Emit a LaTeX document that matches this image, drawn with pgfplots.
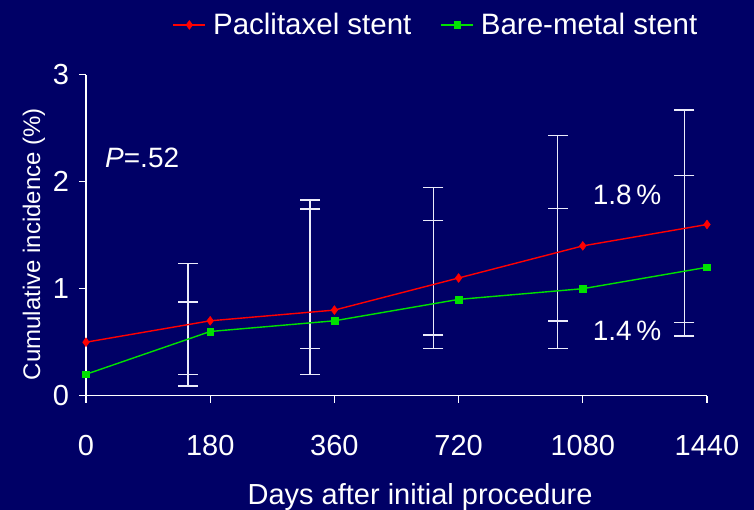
\documentclass[border=0pt]{standalone}
\usepackage{fontspec}
\setmainfont{Liberation Sans}
\usepackage{pgfplots}
\pgfplotsset{compat=1.18}
\usetikzlibrary{backgrounds}
\definecolor{bg}{RGB}{0,0,102}
\definecolor{pred}{RGB}{255,0,0}
\definecolor{bgreen}{RGB}{0,225,0}
\definecolor{ebar}{RGB}{235,235,250}
\begin{document}
\begin{tikzpicture}
\begin{axis}[
  scale only axis, width=621pt, height=321pt,
  xmin=0, xmax=5, ymin=0, ymax=3,
  axis x line=bottom, axis y line=left,
  axis line style={-, white, line width=1.3pt},
  tick align=outside, major tick length=7pt,
  tick style={white, line width=1.3pt},
  xtick={0,1,2,3,4,5}, xticklabels={0,180,360,720,1080,1440},
  ytick={0,1,2,3}, yticklabels={0,1,2,3},
  tick label style={font=\fontsize{29}{32}\selectfont, text=white, inner sep=0pt},
  xticklabel style={anchor=north, yshift=-32pt},
  yticklabel style={anchor=east, xshift=-9.7pt},
  clip=false,
  legend style={at={(axis description cs:0.562,1.155)}, anchor=center, draw=none, fill=none,
    text=white, font=\fontsize{29.5}{31}\selectfont, legend columns=2,
    nodes={inner sep=0pt},
    /tikz/every odd column/.append style={column sep=7pt},
    /tikz/every even column/.append style={column sep=29pt}},
  legend image code/.code={\draw[mark repeat=2,mark phase=2,#1] plot coordinates {(0pt,0pt) (16pt,0pt) (32pt,0pt)};},
]
% error bars (outer ranges)
\addplot[ebar, line width=1.5pt, mark=-, mark size=10pt, forget plot] coordinates {(0.821,0.091) (0.821,1.237)};
\addplot[ebar, line width=1.5pt, mark=-, mark size=10pt, forget plot] coordinates {(1.804,0.200) (1.804,1.829)};
\addplot[ebar, line width=1.5pt, mark=-, mark size=10pt, forget plot] coordinates {(2.796,0.443) (2.796,1.944)};
\addplot[ebar, line width=1.5pt, mark=-, mark size=10pt, forget plot] coordinates {(3.798,0.443) (3.798,2.430)};
\addplot[ebar, line width=1.5pt, mark=-, mark size=10pt, forget plot] coordinates {(4.817,0.558) (4.817,2.670)};
% inner caps
\addplot[ebar, only marks, mark=-, mark size=10pt, mark options={line width=1.5pt}, forget plot] coordinates {
 (0.821,0.200) (0.821,0.878)
 (1.804,0.443) (1.804,1.745)
 (2.796,0.567) (2.796,1.636)
 (3.798,0.698) (3.798,1.748)
 (4.817,0.686) (4.817,2.056)
};
\addplot[pred, line width=1.4pt, mark=diamond*, mark size=4.4pt, mark options={fill=pred, draw=pred, line width=0.5pt}] coordinates {
 (0,0.5) (1,0.7) (2,0.8) (3,1.1) (4,1.4) (5,1.6)
};
\addlegendentry{Paclitaxel stent}
\addplot[bgreen, line width=1.4pt, mark=square*, mark size=3.4pt, mark options={fill=bgreen, draw=bgreen, line width=0.5pt}] coordinates {
 (0,0.2) (1,0.6) (2,0.7) (3,0.9) (4,1.0) (5,1.2)
};
\addlegendentry{Bare-metal stent}
\node[anchor=west, text=white, font=\fontsize{28}{30}\selectfont, inner sep=0pt] at (axis cs:0.153,2.22) {\textit{P}=.52};
\node[text=white, font=\fontsize{28}{30}\selectfont, inner sep=0pt] at (axis cs:4.356,1.876) {1.8\,\%};
\node[text=white, font=\fontsize{28}{30}\selectfont, inner sep=0pt] at (axis cs:4.356,0.605) {1.4\,\%};
\node[text=white, font=\fontsize{24}{26}\selectfont, inner sep=0pt, rotate=90] at (rel axis cs:-0.0837,0.4725) {Cumulative incidence (\%)};
\node[text=white, font=\fontsize{29}{32}\selectfont, inner sep=0pt, anchor=base] at (rel axis cs:0.538,-0.3396) {Days after initial procedure};
\coordinate (SW) at (rel axis cs:0,0);
\coordinate (NE) at (rel axis cs:1,1);
\end{axis}
\begin{pgfonlayer}{background}
\fill[bg] ([shift={(-86pt,-114.3pt)}]SW) rectangle ([shift={(47pt,74.7pt)}]NE);
\end{pgfonlayer}
\pgfresetboundingbox
\path ([shift={(-86pt,-114.3pt)}]SW) rectangle ([shift={(47pt,74.7pt)}]NE);
\end{tikzpicture}
\end{document}
